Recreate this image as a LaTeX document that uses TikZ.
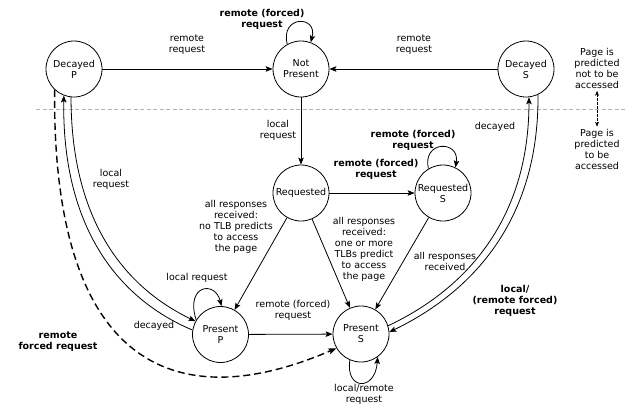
\documentclass[tikz,border=0pt]{standalone}
\usepackage{fontspec}
\setmainfont{DejaVu Sans}
\usetikzlibrary{arrows.meta}
\newcommand\labfont{\fontsize{9.5}{11}\selectfont}
\newcommand\boldlabfont{\fontsize{9.5}{11}\selectfont\bfseries}
\begin{document}
\begin{tikzpicture}[x=1pt,y=-1pt,
  state/.style={circle,draw,line width=0.8pt,minimum size=56pt,inner sep=0pt,align=center,font=\labfont},
  lbl/.style={align=center,inner sep=0pt,font=\labfont},
  blbl/.style={align=center,inner sep=0pt,font=\boldlabfont},
  edge/.style={draw,line width=0.8pt,-{Stealth[length=7pt,width=5.5pt,inset=1.5pt]}},
  dedge/.style={draw,line width=1.4pt,dash pattern=on 7pt off 4pt,-{Stealth[length=8pt,width=6pt,inset=1.5pt]}},
  divider/.style={draw=black!30,line width=0.7pt,dash pattern=on 4pt off 2.5pt},
]
\useasboundingbox (0,0) rectangle (628,405);
% states
\node[state] (dp) at (74,69) {Decayed\\P};
\node[state] (np) at (301,69) {Not\\Present};
\node[state] (ds) at (526,69) {Decayed\\S};
\node[state] (rq) at (301,193) {Requested};
\node[state] (rs) at (443,193) {Requested\\S};
\node[state] (pp) at (220.5,334.5) {Present\\P};
\node[state] (ps) at (361,334) {Present\\S};
% divider
\draw[divider] (36,109) -- (628,109);
\node[lbl] (top) at (597,68.5) {Page is\\predicted\\not to be\\accessed};
\node[lbl] (bot) at (597,149) {Page is\\predicted\\to be\\accessed};
\draw[line width=0.6pt,dash pattern=on 2.5pt off 1.5pt,{Stealth[length=5pt,width=4pt]}-{Stealth[length=5pt,width=4pt]},shorten <=2pt,shorten >=2pt] (top.south) -- (bot.north);
% straight edges
\path[edge] (dp) -- (np);
\path[edge] (ds) -- (np);
\path[edge] (np) -- (rq);
\path[edge] (rq) -- (rs);
\path[edge] (rq) -- (pp);
\path[edge] (rq) -- (ps);
\path[edge] (rs) -- (ps);
\path[edge] (pp) -- (ps);
% self loops
\path[edge] (np.119) .. controls (280,15) and (318,15) .. (np.70);
\path[edge] (rs.121) .. controls (422,140) and (460,140) .. (rs.64);
\path[edge] (pp.149) .. controls (185,285) and (215,280) .. (pp.88);
\path[edge] (ps.-113) .. controls (345,390) and (375,392) .. (ps.-54);
% curved pairs
\path[edge] (dp.-96) .. controls (71,215) and (120,285) .. (pp.152);
\path[edge] (pp.171) .. controls (112,296) and (62,220) .. (dp.-111);
\path[edge] (ps.17) .. controls (460,292) and (529,225) .. (ds.-84);
\path[edge] (ds.-65) .. controls (539,230) and (462,297) .. (ps.4);
\path[dedge] (dp.-133) .. controls (52,360) and (170,420) .. (ps.-150);
% labels
\node[lbl] at (187,45) {remote\\request};
\node[lbl] at (414,45) {remote\\request};
\node[blbl] at (262,19) {remote (forced)\\request};
\node[lbl] at (278,130.5) {local\\request};
\node[blbl] at (376,169) {remote (forced)\\request};
\node[blbl] at (413,140) {remote (forced)\\request};
\node[lbl] at (495,127) {decayed};
\node[lbl] at (111,179) {local\\request};
\node[lbl] at (236,227) {all responses\\received:\\no TLB predicts\\to access\\the page};
\node[lbl] at (364,249) {all responses\\received:\\one or more\\TLBs predict\\to access\\the page};
\node[lbl] at (445,261.5) {all responses\\received};
\node[lbl] at (197,278) {local request};
\node[lbl] at (293,310.5) {remote (forced)\\request};
\node[lbl] at (154,326) {decayed};
\node[blbl] at (58,342) {remote\\forced request};
\node[blbl] at (515,301) {local/\\(remote forced)\\request};
\node[lbl] at (364,394.5) {local/remote\\request};
\end{tikzpicture}
\end{document}
